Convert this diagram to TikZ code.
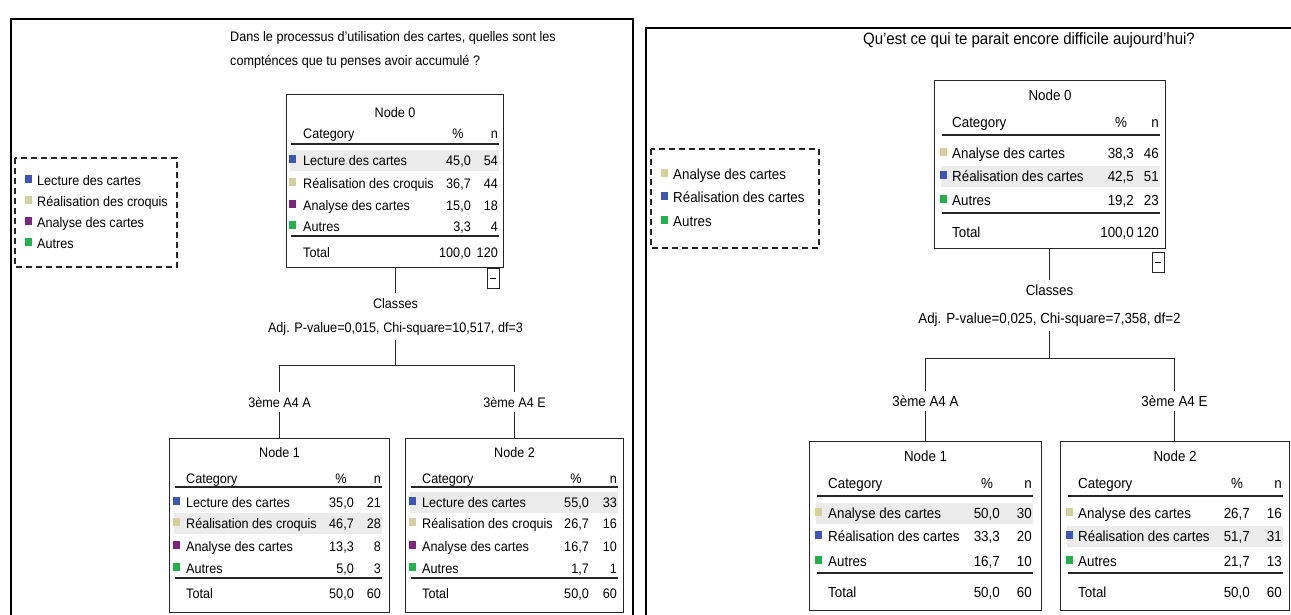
\documentclass[tikz,border=0pt]{standalone}
\usepackage{fontspec}
\setmainfont{Liberation Sans}[FakeStretch=0.915]

\definecolor{cblue}{HTML}{3F55B5}
\definecolor{cbeige}{HTML}{D5CF9B}
\definecolor{cpurple}{HTML}{7D2480}
\definecolor{cgreen}{HTML}{22B14C}
\definecolor{hlgray}{HTML}{EBEBEB}

% column positions of the current table: swatch, label, percent, count
\newcommand\tabcols[4]{\def\colsq{#1}\def\coltx{#2}\def\colpc{#3}\def\coln{#4}}
% one category row: name, y, colour, label, percent, count
\newcommand\catrow[6]{%
  \fill[#3] (\colsq,#2-6) rectangle (\colsq+6.5,#2+2);
  \node[txt,anchor=base west] (#1t) at (\coltx,#2+4.5) {#4};
  \node[txt,anchor=base east] (#1p) at (\colpc,#2+4.5) {#5};
  \node[txt,anchor=base east] (#1n) at (\coln,#2+4.5) {#6};
}
% shaded band behind the modal row
\newcommand\hlband[1]{\fill[hlgray] (\colsq+1,#1-11) rectangle (\coln+1,#1+10);}
% column header and its rule: name, header y, rule y
\newcommand\tabhead[3]{%
  \node[txt,anchor=base west] (#1c) at (\coltx,#2+4.5) {Category};
  \node[txt,anchor=base] (#1pc) at (\colpc-13,#2+4.5) {\%};
  \node[txt,anchor=base east] (#1nn) at (\coln,#2+4.5) {n};
  \draw[tabrule] (\colsq+2,#3) -- (\coln+1,#3);
}
% total row: name, rule y, total y, percent, count
\newcommand\tabtotal[5]{%
  \draw[tabrule] (\colsq+2,#2) -- (\coln+1,#2);
  \node[txt,anchor=base west] (#1tt) at (\coltx,#3+4.5) {Total};
  \node[txt,anchor=base east] (#1tp) at (\colpc,#3+4.5) {#4};
  \node[txt,anchor=base east] (#1tn) at (\coln,#3+4.5) {#5};
}
% legend entry: name, swatch x, y, colour, label
\newcommand\legitem[5]{%
  \fill[#4] (#2,#3-6) rectangle (#2+7,#3+2);
  \node[txt,anchor=base west] (#1) at (#2+12,#3+4.5) {#5};
}

\begin{document}
\begin{tikzpicture}[x=1pt,y=-1pt,
  txt/.style={inner sep=0pt,font=\fontsize{13.8}{15}\selectfont},
  panel/.style={draw=black,line width=2.2pt},
  treebox/.style={draw=black!85,line width=1.1pt,anchor=north west,inner sep=0pt},
  tabrule/.style={draw=black!85,line width=1.8pt},
  legbox/.style={draw=black!85,line width=1.3pt,dash pattern=on 6pt off 4pt},
  link/.style={draw=black!85,line width=1.3pt},
  minusbox/.style={draw=black!85,line width=1.1pt,inner sep=0pt,minimum width=12pt,minimum height=20pt,anchor=north east}]

\useasboundingbox (0,0) rectangle (1291,615);
\clip (0,0) rectangle (1291,615);
\fill[white] (0,0) rectangle (1291,615);

% ---------------- left panel ----------------
\draw[panel] (11,19) rectangle (633,640);
\begin{scope}
\node[txt,anchor=base west] (Lq1) at (230,37+4.5) {Dans le processus d'utilisation des cartes, quelles sont les};
\node[txt,anchor=base west] (Lq2) at (230,61+4.5) {compténces que tu penses avoir accumulé ?};

% legend
\draw[legbox] (15,158) rectangle (177,267);
\legitem{Lg1}{25}{181}{cblue}{Lecture des cartes}
\legitem{Lg2}{25}{202}{cbeige}{Réalisation des croquis}
\legitem{Lg3}{25}{223}{cpurple}{Analyse des cartes}
\legitem{Lg4}{25}{244}{cgreen}{Autres}

% node 0
\node[treebox,minimum width=217pt,minimum height=173pt] (L0) at (286,94) {};
\node[txt,anchor=base] (L0h) at (L0.north |- 0,113+4.5) {Node 0};
\tabcols{289}{303}{471}{498}
\tabhead{L0}{134}{144}
\hlband{161}
\catrow{L0a}{161}{cblue}{Lecture des cartes}{45,0}{54}
\catrow{L0b}{184}{cbeige}{Réalisation des croquis}{36,7}{44}
\catrow{L0c}{206}{cpurple}{Analyse des cartes}{15,0}{18}
\catrow{L0d}{227}{cgreen}{Autres}{3,3}{4}
\tabtotal{L0}{236}{253}{100,0}{120}
\node[minusbox] (L0m) at (500,268) {\rule{6pt}{1.2pt}};

% split
\node[txt,anchor=base] (L0cls) at (395.5,304+4.5) {Classes};
\node[txt,anchor=base] (L0pv) at (395.5,328+4.5) {Adj. P-value=0,015, Chi-square=10,517, df=3};
\coordinate (L0j) at (395.5,365.5);
\node[txt,anchor=base] (L0ba) at (279.5,403+4.5) {3ème A4 A};
\node[txt,anchor=base] (L0be) at (514.5,403+4.5) {3ème A4 E};
\draw[link] (L0.south -| L0cls) -- ([yshift=5pt]L0cls.north);
\draw[link] ([yshift=-4pt]L0pv.south) -- (L0j);
\draw[link] ([yshift=5pt]L0ba.north) |- (L0j) -| ([yshift=5pt]L0be.north);

% node 1
\node[treebox,minimum width=220pt,minimum height=174pt] (L1) at (169,438) {};
\draw[link] ([yshift=-4pt]L0ba.south) -- (L1.north -| L0ba);
\node[txt,anchor=base] (L1h) at (L1.north |- 0,453+4.5) {Node 1};
\tabcols{173}{186}{354}{381}
\tabhead{L1}{479}{487}
\hlband{524}
\catrow{L1a}{503}{cblue}{Lecture des cartes}{35,0}{21}
\catrow{L1b}{524}{cbeige}{Réalisation des croquis}{46,7}{28}
\catrow{L1c}{547}{cpurple}{Analyse des cartes}{13,3}{8}
\catrow{L1d}{569}{cgreen}{Autres}{5,0}{3}
\tabtotal{L1}{578}{594}{50,0}{60}

% node 2
\node[treebox,minimum width=218pt,minimum height=174pt] (L2) at (405,438) {};
\draw[link] ([yshift=-4pt]L0be.south) -- (L2.north -| L0be);
\node[txt,anchor=base] (L2h) at (L2.north |- 0,453+4.5) {Node 2};
\tabcols{409}{422}{589}{617}
\tabhead{L2}{479}{487}
\hlband{503}
\catrow{L2a}{503}{cblue}{Lecture des cartes}{55,0}{33}
\catrow{L2b}{524}{cbeige}{Réalisation des croquis}{26,7}{16}
\catrow{L2c}{547}{cpurple}{Analyse des cartes}{16,7}{10}
\catrow{L2d}{569}{cgreen}{Autres}{1,7}{1}
\tabtotal{L2}{578}{594}{50,0}{60}
\end{scope}

% ---------------- right panel ----------------
\draw[panel] (646,28) rectangle (1300,640);
\begin{scope}[txt/.style={inner sep=0pt,font=\fontsize{14.6}{16}\selectfont}]
\node[txt,anchor=base,font=\fontsize{16.4}{18}\selectfont] (Rq) at (1029,40+4.5) {Qu'est ce qui te parait encore difficile aujourd'hui?};

% legend
\draw[legbox] (651,149) rectangle (819,248);
\legitem{Rg1}{661}{175}{cbeige}{Analyse des cartes}
\legitem{Rg2}{661}{198}{cblue}{Réalisation des cartes}
\legitem{Rg3}{661}{222}{cgreen}{Autres}

% node 0
\node[treebox,minimum width=231pt,minimum height=168pt] (R0) at (934,80) {};
\node[txt,anchor=base] (R0h) at (R0.north |- 0,96+4.5) {Node 0};
\tabcols{940}{952}{1134}{1159}
\tabhead{R0}{123}{135}
\hlband{177}
\catrow{R0a}{154}{cbeige}{Analyse des cartes}{38,3}{46}
\catrow{R0b}{177}{cblue}{Réalisation des cartes}{42,5}{51}
\catrow{R0c}{201}{cgreen}{Autres}{19,2}{23}
\tabtotal{R0}{213}{233}{100,0}{120}
\node[minusbox] (R0m) at (1165,252) {\rule{6pt}{1.2pt}};

% split
\node[txt,anchor=base] (R0cls) at (1049.5,291+4.5) {Classes};
\node[txt,anchor=base] (R0pv) at (1049.5,319+4.5) {Adj. P-value=0,025, Chi-square=7,358, df=2};
\coordinate (R0j) at (1049.5,358.5);
\node[txt,anchor=base] (R0ba) at (925.5,402+4.5) {3ème A4 A};
\node[txt,anchor=base] (R0be) at (1174.5,402+4.5) {3ème A4 E};
\draw[link] (R0.south -| R0cls) -- ([yshift=5pt]R0cls.north);
\draw[link] ([yshift=-4pt]R0pv.south) -- (R0j);
\draw[link] ([yshift=5pt]R0ba.north) |- (R0j) -| ([yshift=5pt]R0be.north);

% node 1
\node[treebox,minimum width=232pt,minimum height=169pt] (R1) at (809,441) {};
\draw[link] ([yshift=-4pt]R0ba.south) -- (R1.north -| R0ba);
\node[txt,anchor=base] (R1h) at (R1.north |- 0,457+4.5) {Node 1};
\tabcols{815}{828}{1000}{1032}
\tabhead{R1}{484}{496}
\hlband{514}
\catrow{R1a}{514}{cbeige}{Analyse des cartes}{50,0}{30}
\catrow{R1b}{537}{cblue}{Réalisation des cartes}{33,3}{20}
\catrow{R1c}{562}{cgreen}{Autres}{16,7}{10}
\tabtotal{R1}{573}{593}{50,0}{60}

% node 2
\node[treebox,minimum width=229pt,minimum height=169pt] (R2) at (1060,441) {};
\draw[link] ([yshift=-4pt]R0be.south) -- (R2.north -| R0be);
\node[txt,anchor=base] (R2h) at (R2.north |- 0,457+4.5) {Node 2};
\tabcols{1066}{1078}{1250}{1282}
\tabhead{R2}{484}{496}
\hlband{537}
\catrow{R2a}{514}{cbeige}{Analyse des cartes}{26,7}{16}
\catrow{R2b}{537}{cblue}{Réalisation des cartes}{51,7}{31}
\catrow{R2c}{562}{cgreen}{Autres}{21,7}{13}
\tabtotal{R2}{573}{593}{50,0}{60}
\end{scope}
\end{tikzpicture}
\end{document}
